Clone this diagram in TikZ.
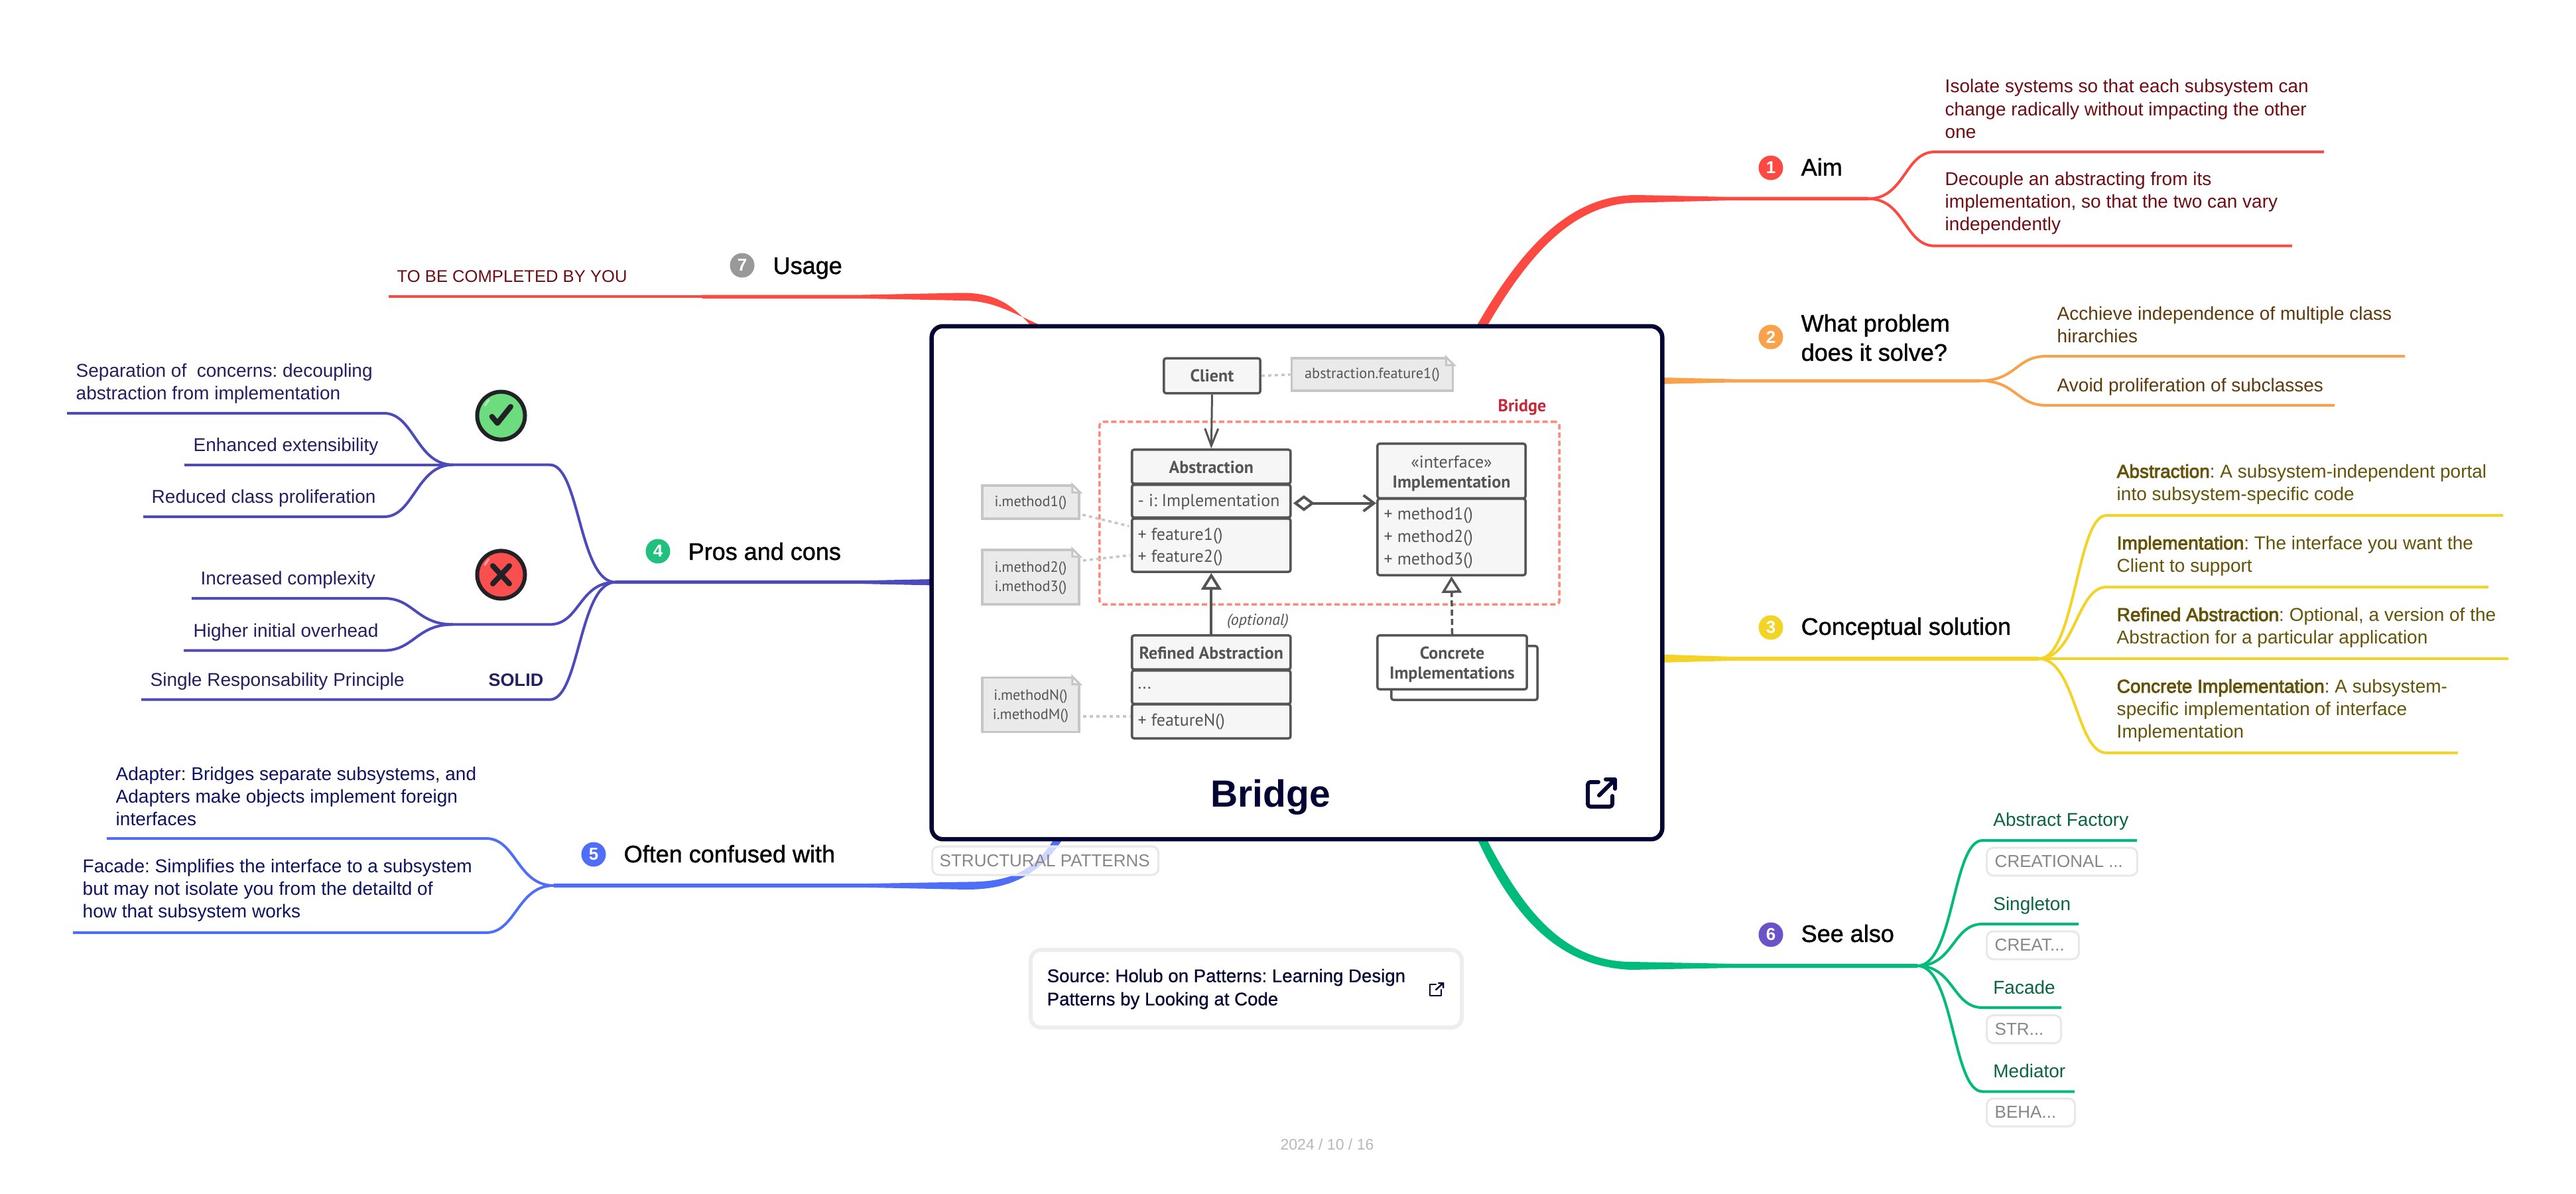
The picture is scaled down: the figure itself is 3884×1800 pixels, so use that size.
\documentclass[tikz,border=0pt]{standalone}
\usepackage{fontspec}
\setmainfont{Liberation Sans}
\newfontfamily\umlfont{PT Sans}
\newfontfamily\medfont[FakeBold=1.2]{Liberation Sans}
\newfontfamily\semifont[FakeBold=0.6]{Liberation Sans}
\newfontfamily\strongfont[FakeBold=3]{Liberation Sans}
\frenchspacing
\usetikzlibrary{arrows.meta,calc}
\definecolor{cred}{HTML}{FC4A42}
\definecolor{corange}{HTML}{F8A24C}
\definecolor{cyellow}{HTML}{F3D326}
\definecolor{cindigo}{HTML}{4D4BBC}
\definecolor{cblue}{HTML}{4F6EF7}
\definecolor{cgreen}{HTML}{00BB7A}
\definecolor{navy}{HTML}{020433}
\definecolor{tred}{HTML}{6E0E14}
\definecolor{tbrown}{HTML}{5F3A0B}
\definecolor{tolive}{HTML}{655308}
\definecolor{tgreen}{HTML}{0B6444}
\definecolor{tindigo}{HTML}{23205F}
\definecolor{tblue}{HTML}{0E1460}
\definecolor{umlline}{HTML}{555555}
\definecolor{umlfill}{HTML}{F6F6F6}
\definecolor{notefill}{HTML}{EAEAEA}
\definecolor{noteline}{HTML}{C6C6C6}
\newcommand{\fpx}[2]{\pgfmathsetmacro\fa{#1*0.28453}\pgfmathsetmacro\fb{#2*0.28453}\fontsize{\fa}{\fb}\selectfont}
\newcommand{\mmstrong}[1]{{\strongfont #1}}
\tikzset{
  rsub/.style={out=0,in=180,out distance=.55cm,in distance=.45cm},
  lsub/.style={out=180,in=0,out distance=.55cm,in distance=.45cm},
  subline/.style={line width=.04cm,line cap=butt},
  mmtext/.style={anchor=west,align=left,inner sep=0pt,font=\fpx{28}{34}},
  mmone/.style={anchor=base west,inner sep=0pt,font=\fpx{28}{34}},
  mmlabel/.style={anchor=base west,inner sep=0pt,text=black,font=\medfont\fpx{36}{44}},
  mmlabeltwo/.style={anchor=west,align=left,inner sep=0pt,text=black,font=\medfont\fpx{36}{44}},
  badge/.style={circle,inner sep=0pt,minimum size=.37cm,text=white,font=\bfseries\fpx{26}{26}},
  umlbox/.style={draw=umlline,fill=umlfill,line width=.035cm,rounded corners=.03cm,inner sep=0pt},
  umllab/.style={inner sep=0pt,text=umlline,align=center,font=\umlfont\bfseries\fpx{26}{33}},
  umltext/.style={anchor=west,inner sep=0pt,text=umlline,font=\umlfont\fpx{26}{33}},
  notebox/.style={draw=noteline,fill=notefill,line width=.035cm,inner sep=0pt},
  notetext/.style={inner sep=0pt,text=umlline,align=center,font=\umlfont\fpx{22.3}{29}},
  noteedge/.style={draw=noteline,line width=.035cm,dash pattern=on .05cm off .05cm},
  tagbox/.style={draw=black!9,fill=white,fill opacity=.72,text opacity=1,line width=.03cm,rounded corners=.1cm,inner sep=0pt,anchor=west},
  tagtext/.style={anchor=west,inner sep=0pt,text=black!47,font=\fpx{26}{30}},
  iconring/.style={circle,draw={rgb,255:red,34;green,34;blue,38},line width=.06cm,minimum size=.72cm,inner sep=0pt},
  iconmark/.style={line width=.08cm,line cap=round,line join=round,draw={rgb,255:red,34;green,34;blue,38}},
  iconshine/.style={line width=.03cm,line cap=round,draw=white,draw opacity=.45},
}
\begin{document}
\begin{tikzpicture}[x=0.01cm,y=-0.01cm]
\useasboundingbox (0,0) rectangle (3884,1800);
\fill[white] (0,0) rectangle (3884,1800);

% ---- main ribbons
\fill[cred] (2226,492) .. controls (2295,372) and (2368,294) .. (2468,294) -- (2611,297) -- (2817,297) -- (2817,302) -- (2611,302) -- (2468,305.5) .. controls (2376,306) and (2308,378) .. (2242,492) -- cycle;
\fill[corange] (2500,569) -- (2611,571.5) -- (2985,571.5) -- (2985,576.5) -- (2611,576.5) -- (2500,579) -- cycle;
\fill[cyellow] (2500,986.5) -- (2612,990) -- (3074,990) -- (3074,996) -- (2612,996) -- (2500,999) -- cycle;
\fill[cgreen] (2240,1262) .. controls (2293,1365) and (2354,1450) .. (2460,1450) -- (2614,1453) -- (2891,1453) -- (2891,1459) -- (2614,1459) -- (2460,1462) .. controls (2345,1458) and (2278,1375) .. (2226,1262) -- cycle;
\fill[cindigo] (1410,873) -- (1302,875.2) -- (928,875.2) -- (928,880.2) -- (1302,880.2) -- (1410,882.5) -- cycle;
\fill[cblue] (1591,1262) .. controls (1555,1322) and (1510,1329.5) .. (1457,1329.5) -- (1301,1332.2) -- (835,1332.2) -- (835,1337.8) -- (1301,1337.8) -- (1457,1341) .. controls (1515,1341) and (1565,1325) .. (1604,1262) -- cycle;
\fill[cred] (1555,492) .. controls (1525,458) and (1500,441.5) .. (1450,441.5) -- (1300,444.5) -- (1059,444.6) -- (1059,450) -- (1300,450) -- (1450,453) .. controls (1495,453) and (1520,468) .. (1572,492) -- cycle;
\fill[cred] (586,445.3) rectangle (1060,449.3);

% ---- sub-branch coordinates and connectors: 1 Aim
\coordinate (h1) at (2817,299.6);
\coordinate (e1a) at (2917,229); \coordinate (f1a) at (3504,229);
\coordinate (e1b) at (2917,370.7); \coordinate (f1b) at (3456,370.7);
\draw[subline,cred] (h1) to[rsub] (e1a) -- (f1a);
\draw[subline,cred] (h1) to[rsub] (e1b) -- (f1b);
% 2
\coordinate (h2) at (2985,574);
\coordinate (e2a) at (3085,537); \coordinate (f2a) at (3626,537);
\coordinate (e2b) at (3085,611); \coordinate (f2b) at (3520,611);
\draw[subline,corange] (h2) to[rsub] (e2a) -- (f2a);
\draw[subline,corange] (h2) to[rsub] (e2b) -- (f2b);
% 3
\coordinate (h3) at (3074,993);
\coordinate (e3a) at (3176,777); \coordinate (f3a) at (3774,777);
\coordinate (e3b) at (3176,885); \coordinate (f3b) at (3752,885);
\coordinate (f3c) at (3782,993);
\coordinate (e3d) at (3176,1135); \coordinate (f3d) at (3706,1135);
\draw[subline,cyellow] (h3) to[rsub] (e3a) -- (f3a);
\draw[subline,cyellow] (h3) to[rsub] (e3b) -- (f3b);
\draw[subline,cyellow] (h3) -- (f3c);
\draw[subline,cyellow] (h3) to[rsub] (e3d) -- (f3d);
% 6
\coordinate (h6) at (2891,1456);
\coordinate (e6a) at (2989,1267); \coordinate (f6a) at (3222,1267);
\coordinate (e6b) at (2989,1393); \coordinate (f6b) at (3134,1393);
\coordinate (e6c) at (2989,1519); \coordinate (f6c) at (3108,1519);
\coordinate (e6d) at (2989,1645.5); \coordinate (f6d) at (3128,1645.5);
\draw[subline,cgreen] (h6) to[rsub] (e6a) -- (f6a);
\draw[subline,cgreen] (h6) to[rsub] (e6b) -- (f6b);
\draw[subline,cgreen] (h6) to[rsub] (e6c) -- (f6c);
\draw[subline,cgreen] (h6) to[rsub] (e6d) -- (f6d);
% 4
\coordinate (h4) at (928,877.7);
\coordinate (e4a) at (829,700.7); \coordinate (h4a) at (683,700.7);
\coordinate (e4b) at (829,941.4); \coordinate (h4b) at (683,941.4);
\coordinate (e4c) at (829,1054.7); \coordinate (f4c) at (213,1054.7);
\draw[subline,cindigo] (h4) to[lsub] (e4a) -- (h4a);
\draw[subline,cindigo] (h4) to[lsub] (e4b) -- (h4b);
\draw[subline,cindigo] (h4) to[lsub] (e4c) -- (f4c);
\coordinate (e4a1) at (579,623); \coordinate (f4a1) at (101,623);
\coordinate (f4a2) at (278,700.7);
\coordinate (e4a3) at (579,779); \coordinate (f4a3) at (216,779);
\draw[subline,cindigo] (h4a) to[lsub] (e4a1) -- (f4a1);
\draw[subline,cindigo] (h4a) -- (f4a2);
\draw[subline,cindigo] (h4a) to[lsub] (e4a3) -- (f4a3);
\coordinate (e4b1) at (579,902); \coordinate (f4b1) at (289,902);
\coordinate (e4b2) at (579,980.6); \coordinate (f4b2) at (277,980.6);
\draw[subline,cindigo] (h4b) to[lsub] (e4b1) -- (f4b1);
\draw[subline,cindigo] (h4b) to[lsub] (e4b2) -- (f4b2);
% 5
\coordinate (h5) at (835,1335);
\coordinate (e5a) at (733,1264); \coordinate (f5a) at (161,1264);
\coordinate (e5b) at (733,1406); \coordinate (f5b) at (110,1406);
\draw[subline,cblue] (h5) to[lsub] (e5a) -- (f5a);
\draw[subline,cblue] (h5) to[lsub] (e5b) -- (f5b);

% ---- labels and badges
\node[badge,fill=cred] (b1) at (2670,253) {1};
\node[mmlabel] (l1) at (2715,264.6) {Aim};
\node[badge,fill=corange] (b2) at (2670,508) {2};
\node[mmlabeltwo] (l2) at (2715,509) {What problem\\does it solve?};
\node[badge,fill=cyellow] (b3) at (2670,946) {3};
\node[mmlabel] (l3) at (2715,957) {Conceptual solution};
\node[badge,fill={rgb,255:red,34;green,192;blue,127}] (b4) at (992,831) {4};
\node[mmlabel] (l4) at (1037,844) {Pros and cons};
\node[badge,fill=cblue] (b5) at (895,1288) {5};
\node[mmlabel] (l5) at (940,1300) {Often confused with};
\node[badge,fill={rgb,255:red,106;green,82;blue,201}] (b6) at (2670,1409) {6};
\node[mmlabel] (l6) at (2715,1420) {See also};
\node[badge,fill=black!40] (b7) at (1119,400) {7};
\node[mmlabel] (l7) at (1165,413) {Usage};

% ---- texts
\node[mmtext,text=tred] (t1a) at (2932,164) {Isolate systems so that each subsystem can\\change radically without impacting the other\\one};
\node[mmtext,text=tred] (t1b) at (2932,306) {Decouple an abstracting from its\\implementation, so that the two can vary\\independently};
\node[mmtext,text=tbrown] (t2a) at (3101,489) {Acchieve independence of multiple class\\hirarchies};
\node[mmone,text=tbrown] (t2b) at (3101,590) {Avoid proliferation of subclasses};
\node[mmtext,text=tolive] (t3a) at (3191,730) {\mmstrong{Abstraction}: A subsystem-independent portal\\into subsystem-specific code};
\node[mmtext,text=tolive] (t3b) at (3191,838) {\mmstrong{Implementation}: The interface you want the\\Client to support};
\node[mmtext,text=tolive] (t3c) at (3191,946) {\mmstrong{Refined Abstraction}: Optional, a version of the\\Abstraction for a particular application};
\node[mmtext,text=tolive] (t3d) at (3191,1071) {\mmstrong{Concrete Implementation}: A subsystem-\\specific implementation of interface\\Implementation};
\node[mmone,text=tgreen] (t6a) at (3004.6,1245.5) {Abstract Factory};
\node[mmone,text=tgreen] (t6b) at (3004.6,1372) {Singleton};
\node[mmone,text=tgreen] (t6c) at (3004.6,1498) {Facade};
\node[mmone,text=tgreen] (t6d) at (3004.6,1624.5) {Mediator};
\node[tagbox,minimum width=2.27cm,minimum height=.42cm] (g6a) at (2994,1299) {};
\node[tagtext] at (3007,1299) {CREATIONAL ...};
\node[tagbox,minimum width=1.39cm,minimum height=.42cm] (g6b) at (2994,1425) {};
\node[tagtext] at (3007,1425) {CREAT...};
\node[tagbox,minimum width=1.12cm,minimum height=.42cm] (g6c) at (2994,1551.5) {};
\node[tagtext] at (3007,1551.5) {STR...};
\node[tagbox,minimum width=1.33cm,minimum height=.42cm] (g6d) at (2994,1677) {};
\node[tagtext] at (3007,1677) {BEHA...};

\node[mmtext,text=tindigo] (t4a) at (114,578) {Separation of\ \ concerns: decoupling\\abstraction from implementation};
\node[mmone,text=tindigo] (t4b) at (291,680) {Enhanced extensibility};
\node[mmone,text=tindigo] (t4c) at (228,758) {Reduced class proliferation};
\node[mmone,text=tindigo] (t4d) at (302,881) {Increased complexity};
\node[mmone,text=tindigo] (t4e) at (291,960) {Higher initial overhead};
\node[mmone,text=tindigo] (t4f) at (226,1034) {Single Responsability Principle};
\node[mmone,text=tindigo,font=\bfseries\fpx{27}{34}] (t4g) at (736,1034) {SOLID};
\node[mmtext,text=tblue] (t5a) at (174,1200) {Adapter: Bridges separate subsystems, and\\Adapters make objects implement foreign\\interfaces};
\node[mmtext,text=tblue] (t5b) at (124,1342) {Facade: Simplifies the interface to a subsystem\\but may not isolate you from the detailtd of\\how that subsystem works};
\node[mmone,text=tred,font=\fpx{25.6}{34}] (t7) at (598,425) {TO BE COMPLETED BY YOU};

% ---- check and cross
\node[iconring,fill={rgb,255:red,109;green,220;blue,127}] (okc) at (755.5,626.6) {};
\draw[iconshine] (731,611.5) -- (737,603);
\draw[iconmark] (741.7,628) -- (750,638) -- (770,613);
\node[iconring,fill={rgb,255:red,249;green,79;blue,79}] (noc) at (755.5,866.4) {};
\draw[iconshine] (731,851.5) -- (737,843);
\draw[iconmark] (743,853) -- (768,880) (768,853) -- (743,880);

% ---- central card
\node[draw=navy,fill=white,line width=.065cm,rounded corners=.17cm,minimum width=11.01cm,minimum height=7.73cm,inner sep=0pt] (card) at (1955.5,878.5) {};
\node[inner sep=0pt,text=navy,font=\bfseries\fpx{57}{60}] (title) at (1915.6,1202) {Bridge};
\draw[navy,line width=.06cm,line cap=round,line join=round,rounded corners=.04cm] (2410,1179) -- (2394,1179) -- (2394,1216) -- (2431,1216) -- (2431,1200);
\draw[navy,line width=.06cm,line cap=round,line join=round] (2411,1199) -- (2435,1175) (2421,1175) -- (2435,1175) -- (2435,1189);

% ---- tag (translucent over the blue branch)
\node[tagbox,minimum width=3.41cm,minimum height=.43cm] (tagS) at (1404,1297.5) {};
\node[tagtext] (tagST) at (1416,1297.5) {STRUCTURAL PATTERNS};

% ---- UML
\node[draw={rgb,255:red,255;green,138;blue,122},line width=.035cm,dash pattern=on .08cm off .045cm,rounded corners=.05cm,minimum width=6.93cm,minimum height=2.75cm,inner sep=0pt] (bridgeR) at (2004.5,773.5) {};
\node[umllab,text={rgb,255:red,201;green,40;blue,58},font=\umlfont\bfseries\fpx{26}{26}] (bridgeL) at (2295,614) {Bridge};
\node[umlbox,minimum width=1.45cm,minimum height=.525cm] (client) at (1827.5,566.5) {};
\node[umllab] (clientT) at (1827.5,566.5) {Client};
\node[notebox,minimum width=2.43cm,minimum height=.49cm] (n0) at (2069,564.7) {};
\node[notetext] (n0T) at (2069,565) {abstraction.feature1()};
\node[umlbox,minimum width=2.39cm,minimum height=.51cm] (a1) at (1826.3,703.5) {};
\node[umllab] (a1T) at (1826.3,704) {Abstraction};
\node[umlbox,minimum width=2.39cm,minimum height=.49cm] (a2) at (1826.3,755.5) {};
\node[umlbox,minimum width=2.39cm,minimum height=.80cm] (a3) at (1826.3,822) {};
\node[umltext] at (1715,757) {- i: Implementation};
\node[umltext] at (1715,808) {+ feature1()};
\node[umltext] at (1715,841) {+ feature2()};
\node[umlbox,minimum width=2.23cm,minimum height=.82cm] (i1) at (2188.5,710) {};
\node[umllab,font=\umlfont\fpx{26}{33}] (i1a) at (2188.5,696) {«interface»};
\node[umllab] (i1b) at (2188.5,729) {Implementation};
\node[umlbox,minimum width=2.23cm,minimum height=1.15cm] (i2) at (2188.5,809.5) {};
\node[umltext] at (2086,777) {+ method1()};
\node[umltext] at (2086,811) {+ method2()};
\node[umltext] at (2086,845) {+ method3()};
\node[umlbox,minimum width=2.39cm,minimum height=.51cm] (r1) at (1826.3,983.5) {};
\node[umllab] (r1T) at (1826.3,984) {Refined Abstraction};
\node[umlbox,minimum width=2.39cm,minimum height=.50cm] (r2) at (1826.3,1036) {};
\node[umlbox,minimum width=2.39cm,minimum height=.51cm] (r3) at (1826.3,1087.5) {};
\node[umltext] at (1715,1037) {...};
\node[umltext] at (1715,1088) {+ featureN()};
\node[umlbox,fill=white,minimum width=2.20cm,minimum height=.81cm] (c2) at (2208,1014.5) {};
\node[umlbox,fill=white,minimum width=2.25cm,minimum height=.81cm] (c1) at (2189.5,998.5) {};
\node[umllab] (c1a) at (2189.5,984) {Concrete};
\node[umllab] (c1b) at (2189.5,1017) {Implementations};
\node[umltext,font=\umlfont\itshape\fpx{24}{26},anchor=center] (opt) at (1896.5,937) {(optional)};
\node[notebox,minimum width=1.46cm,minimum height=.495cm] (n1) at (1554,757) {};
\node[notetext] (n1T) at (1554,758) {i.method1()};
\node[notebox,minimum width=1.46cm,minimum height=.82cm] (n2) at (1554,870) {};
\node[notetext] (n2a) at (1554,857) {i.method2()};
\node[notetext] (n2b) at (1554,886) {i.method3()};
\node[notebox,minimum width=1.46cm,minimum height=.82cm] (n3) at (1554,1062.5) {};
\node[notetext] (n3a) at (1554,1050) {i.methodN()};
\node[notetext] (n3b) at (1554,1079) {i.methodM()};
% note folds
\foreach \nm in {n0,n1,n2,n3}{
  \fill[white] ($(\nm.north east)+(-12,-2)$) -- ($(\nm.north east)+(2,-2)$) -- ($(\nm.north east)+(2,12)$) -- cycle;
  \draw[noteline,line width=.03cm,fill=white!50!notefill] ($(\nm.north east)+(-12,0)$) -- ($(\nm.north east)+(0,12)$) -- ($(\nm.north east)+(-12,12)$) -- cycle;
}
% UML connectors
\draw[umlline,line width=.03cm,-{Straight Barb[length=.26cm,width=.2cm]}] (client.south) -- (a1.north);
\coordinate (aggL) at (1950,758.6); \coordinate (aggR) at (2075,758.6);
\draw[umlline,line width=.04cm,{Diamond[open,length=.32cm,width=.24cm]}-{Straight Barb[length=.16cm,width=.24cm]}] (aggL) -- (aggR);
\draw[umlline,line width=.04cm,-{Triangle[fill=white,length=.25cm,width=.3cm]}] (r1.north) -- (a3.south);
\draw[umlline,line width=.035cm,dash pattern=on .09cm off .05cm,-{Triangle[fill=white,length=.25cm,width=.3cm]}] (c1.north) -- (i2.south);
\draw[noteedge] (client.east) -- (n0.west);
\coordinate (d1a) at (1632,776); \coordinate (d1b) at (1702,793);
\coordinate (d2a) at (1633,845); \coordinate (d2b) at (1704,837);
\coordinate (d3a) at (1633,1080); \coordinate (d3b) at (1704,1080);
\draw[noteedge] (d1a) -- (d1b);
\draw[noteedge] (d2a) -- (d2b);
\draw[noteedge] (d3a) -- (d3b);

% ---- source card
\node[draw={rgb,255:red,238;green,236;blue,239},fill=white,line width=.06cm,rounded corners=.16cm,minimum width=6.5cm,minimum height=1.17cm,inner sep=0pt] (src) at (1879,1490.5) {};
\node[mmtext,text=navy,font=\semifont\fpx{27.6}{35}] (srcT) at (1578,1491) {Source: Holub on Patterns: Learning Design\\Patterns by Looking at Code};
\draw[navy,line width=.025cm,line cap=round,line join=round] (2165,1484) -- (2156,1484) -- (2156,1501) -- (2173,1501) -- (2173,1492);
\draw[navy,line width=.025cm,line cap=round,line join=round] (2165,1492) -- (2176,1482) (2169,1482) -- (2176,1482) -- (2176,1489);
\node[inner sep=0pt,text=black!28,font=\fpx{23}{26}] (date) at (2001,1725.6) {2024 / 10 / 16};
\end{tikzpicture}
\end{document}
